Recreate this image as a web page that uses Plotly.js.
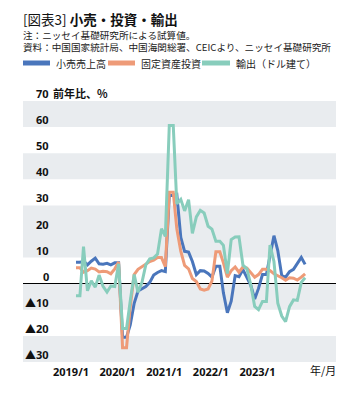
<!DOCTYPE html>
<html><head><meta charset="utf-8">
<script src="https://cdn.plot.ly/plotly-3.0.1.min.js"></script>
<style>html,body{margin:0;padding:0;background:#fff}#chart{width:360px;height:395px}</style>
</head><body><div id="chart"></div>
<script>
// ---- data ----
const months = [
 "2019-01","2019-02","2019-03","2019-04","2019-05","2019-06","2019-07","2019-08","2019-09","2019-10","2019-11","2019-12",
 "2020-01","2020-02","2020-03","2020-04","2020-05","2020-06","2020-07","2020-08","2020-09","2020-10","2020-11","2020-12",
 "2021-01","2021-02","2021-03","2021-04","2021-05","2021-06","2021-07","2021-08","2021-09","2021-10","2021-11","2021-12",
 "2022-01","2022-02","2022-03","2022-04","2022-05","2022-06","2022-07","2022-08","2022-09","2022-10","2022-11","2022-12",
 "2023-01","2023-02","2023-03","2023-04","2023-05","2023-06","2023-07","2023-08","2023-09","2023-10","2023-11","2023-12"];
const retailSales = [
 8.2, 8.2, 8.7, 7.2, 8.6, 9.8, 7.6, 7.5, 7.8, 7.2, 8.0, 8.0,
 -20.5, -20.5, -15.8, -7.5, -2.8, -1.8, -1.1, 0.5, 3.3, 4.3, 5.0, 4.6,
 33.8, 33.8, 34.2, 17.7, 12.4, 12.1, 8.5, 3.5, 5.0, 4.9, 3.9, 2.5,
 6.7, 6.7, -3.5, -11.1, -6.7, 3.1, 2.7, 5.4, 2.5, -0.5, -5.9, -1.8,
 3.5, 3.5, 10.6, 18.4, 12.7, 3.1, 2.5, 4.6, 5.5, 7.6, 10.1, 7.4];
const fixedAssetInvestment = [
 6.1, 6.1, 4.4, 5.0, 6.0, 5.6, 4.5, 4.8, 4.6, 3.8, 5.7, 8.3,
 -24.5, -24.5, -9.0, 3.5, 5.5, 6.5, 7.5, 8.5, 9.0, 10.0, 10.0, 6.5,
 35.0, 35.0, 21.0, 12.5, 7.0, 5.7, 2.0, 0.8, -2.0, -2.5, -2.0, 1.0,
 12.2, 12.2, 8.0, 2.5, 5.0, 6.4, 4.4, 6.4, 6.0, 4.4, 2.5, 3.5,
 5.5, 5.5, 5.0, 3.8, 3.2, 2.3, 1.3, 2.3, 2.1, 1.4, 2.5, 3.8];
const exportsUSD = [
 -4.6, -4.6, 14.2, -2.7, 1.1, -1.3, 3.3, -1.0, -3.2, -0.9, -1.1, 7.6,
 -17.2, -17.2, -6.6, 3.5, -3.3, 0.5, 7.2, 9.5, 9.9, 11.4, 21.1, 18.1,
 60.6, 60.6, 30.6, 32.3, 27.9, 32.2, 19.3, 25.6, 28.1, 27.1, 22.0, 20.9,
 16.3, 16.3, 14.7, 3.9, 16.9, 17.9, 18.0, 7.1, 5.7, -0.3, -8.7, -9.9,
 -6.8, -6.8, 14.8, 8.5, -7.5, -12.4, -14.5, -8.8, -6.2, -6.4, 0.5, 2.3];
const seriesNames = ["小売売上高", "固定資産投資", "輸出（ドル建て）"];
const xTickVals = ["2019-01-01", "2020-01-01", "2021-01-01", "2022-01-01", "2023-01-01"];
const xTickText = ["2019/1", "2020/1", "2021/1", "2022/1", "2023/1"];
const yTickVals = [70, 60, 50, 40, 30, 20, 10, 0, -10, -20, -30];
const yTickText = ["70", "60", "50", "40", "30", "20", "10", "0", "▲10", "▲20", "▲30"];

// ---- layout helpers ----
const W = 360, H = 395, L = 23, R = 336, T = 101, B = 362;
const px = x => (x - L) / (R - L);
const py = y => (B - y) / (B - T);
const JP = '"Noto Sans CJK JP", "Noto Sans", sans-serif';
const NUM = '"Noto Sans", "Noto Sans CJK JP", sans-serif';
const colors = ["#4A76BC", "#EE9B78", "#88CDBC"];

const traces = [retailSales, fixedAssetInvestment, exportsUSD].map((ys, i) => ({
  type: "scatter", mode: "lines", x: months, y: ys, name: seriesNames[i],
  line: {color: colors[i], width: 3}, hoverinfo: "skip"
}));

const bands = [[60, 70], [40, 50], [10, 30], [-10, 0], [-30, -20]];
const shapes = bands.map(b => ({
  type: "rect", xref: "paper", yref: "y", x0: 0, x1: 1, y0: b[0], y1: b[1],
  fillcolor: "#E9ECEF", line: {width: 0}, layer: "below"
}));

// legend (swatch + label), laid out like the reference's top legend row
const legendSwatchX = [[23, 50], [108, 135], [202, 230]];
const legendY = 63;
const annotations = [];
seriesNames.forEach((n, i) => {
  shapes.push({type: "line", xref: "paper", yref: "paper",
    x0: px(legendSwatchX[i][0]), x1: px(legendSwatchX[i][1]), y0: py(legendY), y1: py(legendY),
    line: {color: colors[i], width: 5}});
  annotations.push({xref: "paper", yref: "paper", x: px(legendSwatchX[i][1] + 5), y: py(legendY),
    xanchor: "left", yanchor: "middle", text: n, showarrow: false, borderpad: 0,
    font: {family: JP, size: 10, color: "#222"}});
});

yTickVals.forEach((v, i) => annotations.push({
  xref: "paper", yref: "y", x: px(49.5), y: v, xanchor: "right", yanchor: "bottom",
  text: yTickText[i], showarrow: false, font: {family: NUM, size: 11, color: "#111", weight: "bold"},
  borderpad: 0, yshift: -1
}));
annotations.push({
  xref: "paper", yref: "y", x: px(52), y: 70, xanchor: "left", yanchor: "bottom",
  text: "前年比、%", showarrow: false, font: {family: JP, size: 11, color: "#111", weight: "bold"},
  borderpad: 0, yshift: -1
});
annotations.push({
  xref: "paper", yref: "paper", x: px(323), y: py(370), xanchor: "center", yanchor: "middle",
  text: "年/月", showarrow: false, font: {family: JP, size: 11, color: "#111"}
});
annotations.push({
  xref: "paper", yref: "paper", x: px(22), y: py(19), xanchor: "left", yanchor: "middle",
  text: "[図表3] <b>小売・投資・輸出</b>", showarrow: false, font: {family: JP, size: 13.5, color: "#111"},
  borderpad: 0
});
annotations.push({
  xref: "paper", yref: "paper", x: px(22), y: py(40.8), xanchor: "left", yanchor: "middle", align: "left",
  text: "注：ニッセイ基礎研究所による試算値。<br>資料：中国国家統計局、中国海関総署、CEICより、ニッセイ基礎研究所",
  showarrow: false, font: {family: JP, size: 9.6, color: "#222"}, borderpad: 0
});

const layout = {
  width: W, height: H,
  margin: {l: L, r: W - R, t: T, b: H - B, autoexpand: false},
  paper_bgcolor: "#fff", plot_bgcolor: "#fff",
  showlegend: false,
  xaxis: {type: "date", range: ["2017-11-12", "2024-07-30"], tickvals: xTickVals, ticktext: xTickText,
          showgrid: false, zeroline: false, showline: false, ticks: "", ticklabelshift: -5, ticklabelstandoff: 2,
          tickfont: {family: NUM, size: 11, color: "#111", weight: "bold"}, fixedrange: true},
  yaxis: {range: [-30, 70], showgrid: false, showticklabels: false, ticks: "", showline: false,
          zeroline: true, zerolinecolor: "#000", zerolinewidth: 1, fixedrange: true},
  shapes: shapes, annotations: annotations
};

Plotly.newPlot("chart", traces, layout, {staticPlot: true, displayModeBar: false});
</script></body></html>
